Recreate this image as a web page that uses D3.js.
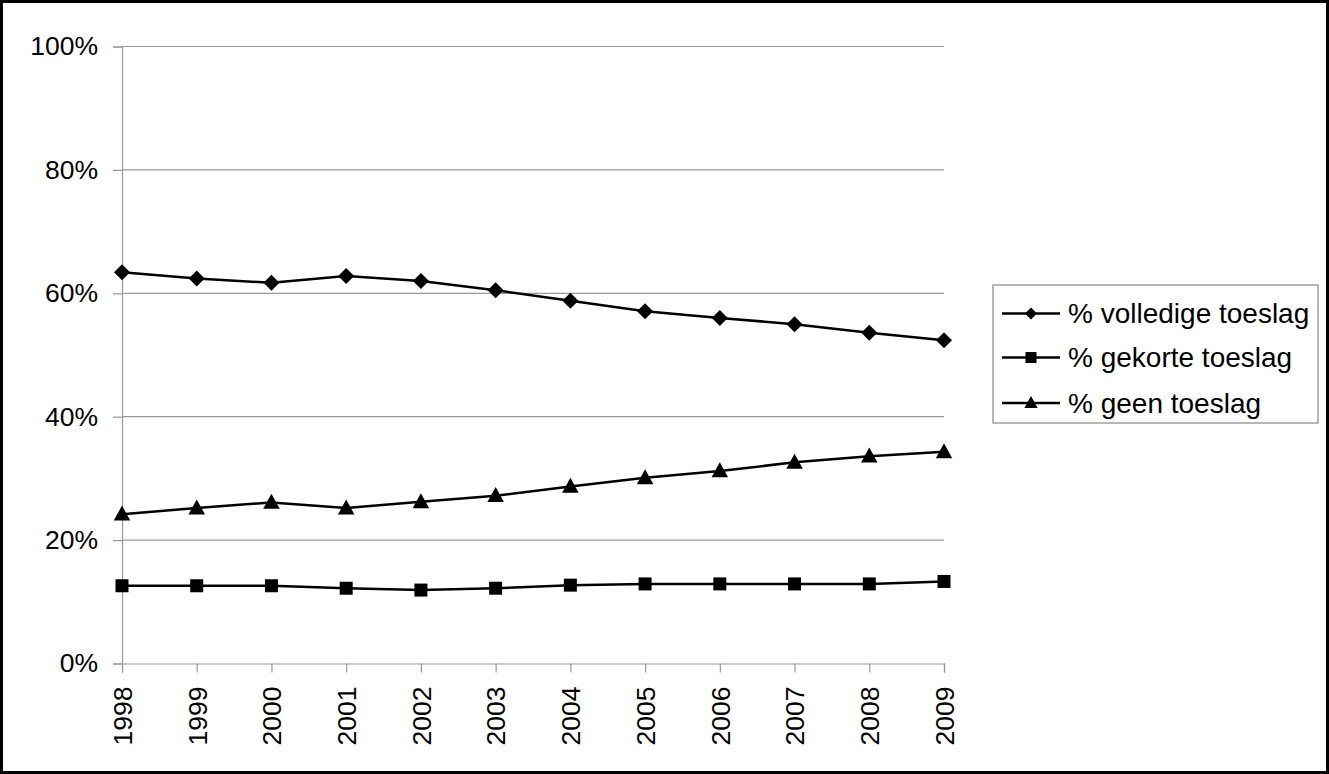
<!DOCTYPE html>
<html><head><meta charset="utf-8">
<script src="https://cdnjs.cloudflare.com/ajax/libs/d3/7.8.5/d3.min.js"></script>
<style>
html,body{margin:0;padding:0;background:#fff;}
svg{display:block;font-family:"Liberation Sans",Arial,sans-serif;}
</style></head>
<body>
<svg id="chart" width="1329" height="774"></svg>
<script>
const years = ["1998","1999","2000","2001","2002","2003","2004","2005","2006","2007","2008","2009"];
const volledige = [63.4,62.4,61.7,62.8,62.0,60.5,58.8,57.1,56.0,55.0,53.6,52.4];
const gekorte   = [12.6,12.6,12.6,12.2,11.9,12.2,12.7,12.9,12.9,12.9,12.9,13.3];
const geen      = [24.2,25.2,26.1,25.2,26.2,27.2,28.7,30.1,31.2,32.6,33.6,34.3];
const seriesNames = ["% volledige toeslag","% gekorte toeslag","% geen toeslag"];
const yTicks = [0,20,40,60,80,100];

const series = [
  {name: seriesNames[0], values: volledige, marker: "diamond"},
  {name: seriesNames[1], values: gekorte, marker: "square"},
  {name: seriesNames[2], values: geen, marker: "triangle"}
];

const svg = d3.select("#chart");
const W = 1329, H = 774;
svg.append("rect").attr("x",1.5).attr("y",1.5).attr("width",W-3).attr("height",H-3)
  .attr("fill","#fff").attr("stroke","#000").attr("stroke-width",3);

const pLeft = 122, pRight = 944, pTop = 46.5, pBottom = 663.5;
const x = d3.scalePoint().domain(years).range([pLeft, pRight]);
const y = d3.scaleLinear().domain([0,100]).range([pBottom, pTop]);

// gridlines
svg.append("g").selectAll("line").data(yTicks.filter(d=>d>0)).join("line")
  .attr("x1", pLeft).attr("x2", pRight).attr("y1", d=>y(d)).attr("y2", d=>y(d))
  .attr("stroke","#999").attr("stroke-width",1.2);

// y axis
const yAxis = svg.append("g").attr("transform",`translate(${pLeft},0)`)
  .call(d3.axisLeft(y).tickValues(yTicks).tickFormat(d=>d+"%").tickSize(9).tickPadding(15));
yAxis.select(".domain").attr("stroke","#999").attr("stroke-width",1.2);
yAxis.selectAll(".tick line").attr("stroke","#999").attr("stroke-width",1.2);
yAxis.selectAll("text").attr("font-size",26.5).attr("fill","#000")
  .attr("font-family","'Liberation Sans',Arial,sans-serif");

// x axis
const xAxis = svg.append("g").attr("transform",`translate(0,${pBottom})`)
  .call(d3.axisBottom(x).tickSize(9).tickPadding(0));
xAxis.select(".domain").attr("stroke","#999").attr("stroke-width",1.2);
xAxis.selectAll(".tick line").attr("stroke","#999").attr("stroke-width",1.2);
xAxis.selectAll("text").attr("font-size",26.5).attr("fill","#000")
  .attr("font-family","'Liberation Sans',Arial,sans-serif")
  .attr("transform","rotate(-90)").attr("text-anchor","end")
  .attr("x",-23).attr("y",0).attr("dy","0.35em");

function markerPath(type, s){
  if(type==="diamond") return `M0,${-s}L${s},0L0,${s}L${-s},0Z`;
  if(type==="square") return `M${-s},${-s}H${s}V${s}H${-s}Z`;
  return `M0,${-s*1.15}L${s*1.1},${s*0.85}L${-s*1.1},${s*0.85}Z`;
}
const sizes = {diamond:8, square:6.5, triangle:7.5};

const line = d3.line().x((d,i)=>x(years[i])).y(d=>y(d));
series.forEach(s=>{
  svg.append("path").datum(s.values).attr("d", line)
    .attr("fill","none").attr("stroke","#000").attr("stroke-width",2.5);
  svg.append("g").selectAll("path").data(s.values).join("path")
    .attr("transform",(d,i)=>`translate(${x(years[i])},${y(d)})`)
    .attr("d", markerPath(s.marker, sizes[s.marker])).attr("fill","#000");
});

// legend
const lg = svg.append("g");
lg.append("rect").attr("x",993).attr("y",285).attr("width",325).attr("height",138)
  .attr("fill","#fff").attr("stroke","#888").attr("stroke-width",1.2);
const legY = [313.5,357.5,403];
const lsizes = {diamond:6, square:5.5, triangle:6};
series.forEach((s,i)=>{
  lg.append("line").attr("x1",1002).attr("x2",1060).attr("y1",legY[i]).attr("y2",legY[i])
    .attr("stroke","#000").attr("stroke-width",2.5);
  lg.append("path").attr("transform",`translate(1031,${legY[i]})`)
    .attr("d", markerPath(s.marker, lsizes[s.marker])).attr("fill","#000");
  lg.append("text").attr("x",1068).attr("y",legY[i]).attr("dy","0.35em")
    .attr("font-size",28).attr("fill","#000").text(s.name);
});
</script>
</body></html>
